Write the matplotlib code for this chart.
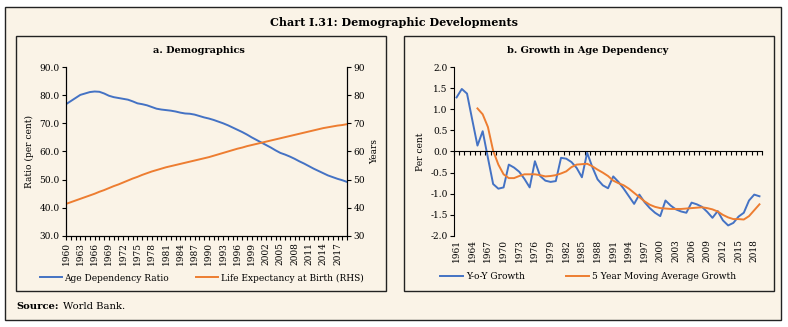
import numpy as np
import matplotlib
matplotlib.use("Agg")
import matplotlib.pyplot as plt
from matplotlib.patches import Rectangle

plt.rcParams["font.family"] = ["DejaVu Serif"]

# ── Data ────────────────────────────────────────────────────────────────────
years_a = list(range(1960, 2020))
age_dep = [76.8, 77.9, 79.0, 80.1, 80.6, 81.1, 81.3, 81.2, 80.6, 79.8,
           79.3, 79.0, 78.7, 78.4, 77.8, 77.1, 76.8, 76.4, 75.8, 75.2,
           74.9, 74.7, 74.5, 74.2, 73.8, 73.5, 73.4, 73.1, 72.6, 72.1,
           71.7, 71.2, 70.6, 70.0, 69.3, 68.5, 67.7, 66.9, 66.0, 65.0,
           64.1, 63.2, 62.3, 61.4, 60.4, 59.5, 58.9, 58.2, 57.4, 56.5,
           55.7, 54.8, 53.9, 53.1, 52.3, 51.5, 50.9, 50.3, 49.8, 49.2]
life_exp = [41.4, 42.0, 42.6, 43.2, 43.8, 44.4, 45.0, 45.7, 46.3, 47.0,
            47.7, 48.3, 49.0, 49.7, 50.4, 51.0, 51.7, 52.3, 52.9, 53.4,
            53.9, 54.4, 54.8, 55.2, 55.6, 56.0, 56.4, 56.8, 57.2, 57.6,
            58.0, 58.5, 59.0, 59.5, 60.0, 60.5, 61.0, 61.4, 61.9, 62.3,
            62.7, 63.1, 63.5, 63.9, 64.3, 64.7, 65.1, 65.5, 65.9, 66.3,
            66.7, 67.1, 67.5, 67.9, 68.3, 68.6, 68.9, 69.2, 69.4, 69.7]

years_b = list(range(1961, 2020))
yoy = [1.28, 1.48, 1.37, 0.75, 0.14, 0.48, -0.15, -0.77, -0.88, -0.85,
       -0.31, -0.38, -0.48, -0.65, -0.85, -0.23, -0.58, -0.69, -0.72, -0.70,
       -0.15, -0.17, -0.25, -0.39, -0.61, -0.03, -0.37, -0.66, -0.80, -0.87,
       -0.59, -0.72, -0.88, -1.06, -1.24, -1.02, -1.20, -1.34, -1.45, -1.53,
       -1.16, -1.28, -1.37, -1.42, -1.45, -1.21, -1.25, -1.31, -1.43, -1.57,
       -1.41, -1.63, -1.75, -1.69, -1.54, -1.45, -1.16, -1.02, -1.06]
years_ma = list(range(1965, 2020))
mov_avg = [1.02, 0.88, 0.58, 0.02, -0.31, -0.54, -0.63, -0.63, -0.58, -0.54,
           -0.54, -0.54, -0.56, -0.59, -0.58, -0.56, -0.52, -0.47, -0.37, -0.31,
           -0.30, -0.29, -0.35, -0.43, -0.50, -0.58, -0.69, -0.75, -0.80, -0.88,
           -0.98, -1.08, -1.18, -1.26, -1.31, -1.34, -1.35, -1.36, -1.36, -1.36,
           -1.35, -1.34, -1.33, -1.32, -1.34, -1.37, -1.42, -1.50, -1.56, -1.60,
           -1.60, -1.61, -1.53, -1.39, -1.25]

BLUE = "#4472C4"
ORANGE = "#ED7D31"
BG = "#FAF3E7"
FS = 6.5

fig = plt.figure(figsize=(7.88, 3.27), dpi=100, facecolor="white")

# cadre extérieur + cadres des panneaux
fig.patches.append(Rectangle((0.0063, 0.0214), 0.9848, 0.957, transform=fig.transFigure,
                             facecolor=BG, edgecolor="#222222", lw=1.0, zorder=-1))
for x0 in (0.0203, 0.5127):
    fig.patches.append(Rectangle((x0, 0.1101), 0.469, 0.7798, transform=fig.transFigure,
                                 facecolor="none", edgecolor="#222222", lw=1.0, zorder=1))

fig.text(0.4994, 0.9327, "Chart I.31: Demographic Developments", ha="center", va="center",
         fontsize=8, fontweight="bold")
fig.text(0.0203, 0.0642, "Source:", ha="left", va="center", fontsize=7.2, fontweight="bold")
fig.text(0.0203 + 0.060, 0.0642, "World Bank.", ha="left", va="center", fontsize=7.2)

# ── a. Demographics ─────────────────────────────────────────────────────────
ax1 = fig.add_axes([0.0838, 0.2783, 0.3566, 0.5168])
ax1.set_facecolor("none")
ax1.plot(years_a, age_dep, color=BLUE, lw=1.4, label="Age Dependency Ratio")
ax1.set_xlim(1960, 2019)
ax1.set_ylim(30, 90)
ax1.set_yticks(np.arange(30, 91, 10))
ax1.set_yticklabels([f"{v:.1f}" for v in np.arange(30, 91, 10)], fontsize=FS)
ax1.set_xticks(years_a, minor=True)
ax1.set_xticks(years_a[::3])
ax1.set_xticklabels([str(y) for y in years_a[::3]], rotation=90, fontsize=FS)
ax1.tick_params(axis="x", which="both", length=3, width=0.8, direction="out", pad=1.5)
ax1.tick_params(axis="y", length=3, width=0.8, pad=1.5)
ax1.spines["top"].set_visible(False)
ax1.set_ylabel("Ratio (per cent)", fontsize=FS, labelpad=4)

ax1r = ax1.twinx()
ax1r.plot(years_a, life_exp, color=ORANGE, lw=1.4, label="Life Expectancy at Birth (RHS)")
ax1r.set_ylim(30, 90)
ax1r.set_yticks(np.arange(30, 91, 10))
ax1r.tick_params(axis="y", length=3, width=0.8, labelsize=FS, pad=1.5)
ax1r.spines["top"].set_visible(False)
ax1r.set_ylabel("Years", fontsize=FS, labelpad=4)

h1, l1 = ax1.get_legend_handles_labels()
h2, l2 = ax1r.get_legend_handles_labels()
fig.legend(h1 + h2, l1 + l2, loc="center", bbox_to_anchor=(0.256, 0.15), ncol=2,
           frameon=False, fontsize=FS, handlelength=2.4, handletextpad=0.3,
           columnspacing=3.0)

fig.text(0.2525, 0.847, "a. Demographics", ha="center", va="center",
         fontsize=7, fontweight="bold")

# ── b. Growth in Age Dependency ─────────────────────────────────────────────
ax2 = fig.add_axes([0.5761, 0.2783, 0.391, 0.5168])
ax2.set_facecolor("none")
ax2.plot(years_b, yoy, color=BLUE, lw=1.4, label="Y-o-Y Growth")
ax2.plot(years_ma, mov_avg, color=ORANGE, lw=1.4, label="5 Year Moving Average Growth")
ax2.set_xlim(1960.5, 2019.5)
ax2.set_ylim(-2.0, 2.0)
ax2.set_yticks(np.arange(-2.0, 2.01, 0.5))
ax2.set_yticklabels([f"{v:.1f}" for v in np.arange(-2.0, 2.01, 0.5)], fontsize=FS)
ax2.tick_params(axis="y", length=3, width=0.8, pad=1.5)
ax2.spines["top"].set_visible(False)
ax2.spines["right"].set_visible(False)
ax2.spines["bottom"].set_position(("data", 0))
ax2.set_xticks(np.arange(1960.5, 2020, 1), minor=True)
ax2.set_xticks(years_b[::3])
ax2.set_xticklabels([str(y) for y in years_b[::3]], rotation=90, fontsize=FS)
ax2.tick_params(axis="x", which="minor", length=3, width=0.8, direction="out")
ax2.tick_params(axis="x", which="major", length=0, pad=63)
ax2.set_ylabel("Per cent", fontsize=FS, labelpad=4)
ax2.legend(loc="center", bbox_to_anchor=(0.746, 0.155), bbox_transform=fig.transFigure,
           ncol=2, frameon=False, fontsize=FS, handlelength=2.6, handletextpad=0.3,
           columnspacing=4.5)

fig.text(0.7462, 0.847, "b. Growth in Age Dependency", ha="center", va="center",
         fontsize=7, fontweight="bold")

fig.savefig("out.png", dpi=100, facecolor=fig.get_facecolor())
